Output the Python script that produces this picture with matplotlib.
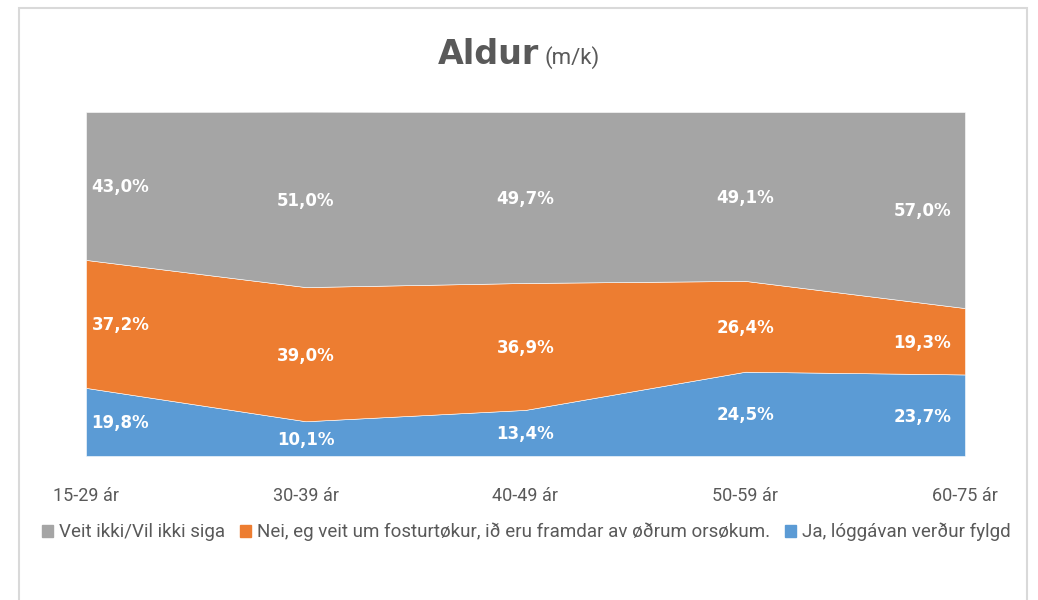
import matplotlib.pyplot as plt
from matplotlib.patches import Patch, Rectangle
from matplotlib import font_manager
import numpy as np

# ================== DATA ==================

age_groups = ["15-29 ár", "30-39 ár", "40-49 ár", "50-59 ár", "60-75 ár"]
ja = [19.8, 10.1, 13.4, 24.5, 23.7]
nei = [37.2, 39.0, 36.9, 26.4, 19.3]
veit_ikki = [43.0, 51.0, 49.7, 49.1, 57.0]

series_names = [
    "Ja, lóggávan verður fylgd",
    "Nei, eg veit um fosturtøkur, ið eru framdar av øðrum orsøkum.",
    "Veit ikki/Vil ikki siga",
]
colors = ["#5B9BD5", "#ED7D31", "#A5A5A5"]

# narrower font for ticks / legend, falls back to DejaVu
names = {f.name for f in font_manager.fontManager.ttflist}
narrow = "Roboto" if "Roboto" in names else "DejaVu Sans"

# ================== PLOT ==================

fig = plt.figure(figsize=(10.38, 6), dpi=100)
ax = fig.add_axes([86 / 1038, 1 - 456 / 600, 879 / 1038, 344 / 600])

x = np.arange(len(age_groups))
series = [ja, nei, veit_ikki]
ax.stackplot(x, series, colors=colors, edgecolor="white", linewidth=0.4)

ax.set_xlim(0, len(age_groups) - 1)
ax.set_ylim(0, 100)
ax.set_yticks([])
ax.set_xticks(x)
ax.set_xticklabels(age_groups, fontsize=13, color="#595959", family=narrow)
ax.tick_params(axis="x", length=0, pad=22)
for s in ax.spines.values():
    s.set_visible(False)

# value labels in the middle of each band
bottom = np.zeros(len(age_groups))
for vals in series:
    vals = np.array(vals)
    mids = bottom + vals / 2
    for i, (v, m) in enumerate(zip(vals, mids)):
        if i == 0:
            ha, dx = "left", 4
        elif i == len(age_groups) - 1:
            ha, dx = "right", -10
        else:
            ha, dx = "center", 0
        ax.annotate(f"{v:.1f}%".replace(".", ","), (i, m), xytext=(dx, -1),
                    textcoords="offset points", ha=ha, va="center",
                    color="white", fontweight="bold", fontsize=12)
    bottom += vals

# title
fig.text(0.519, 0.893, "Aldur", ha="right", va="baseline", fontsize=24,
         fontweight="bold", color="#595959")
fig.text(0.525, 0.893, "(m/k)", ha="left", va="baseline", fontsize=16,
         color="#595959", family=narrow)

# legend
handles = [Patch(color=colors[i], label=series_names[i]) for i in [2, 1, 0]]
fig.legend(handles=handles, loc="center", bbox_to_anchor=(0.507, 1 - 532 / 600),
           ncol=3, frameon=False, handlelength=0.6, handleheight=0.6,
           handletextpad=0.3, columnspacing=0.8, labelcolor="#595959",
           prop={"family": narrow, "size": 13.5})

# chart border
fig.patches.append(Rectangle((19 / 1038, -0.1), 1008 / 1038, 1.1 - 8 / 600,
                             transform=fig.transFigure, fill=False,
                             edgecolor="#D9D9D9", linewidth=1.5))

plt.savefig("out.png", dpi=100)
